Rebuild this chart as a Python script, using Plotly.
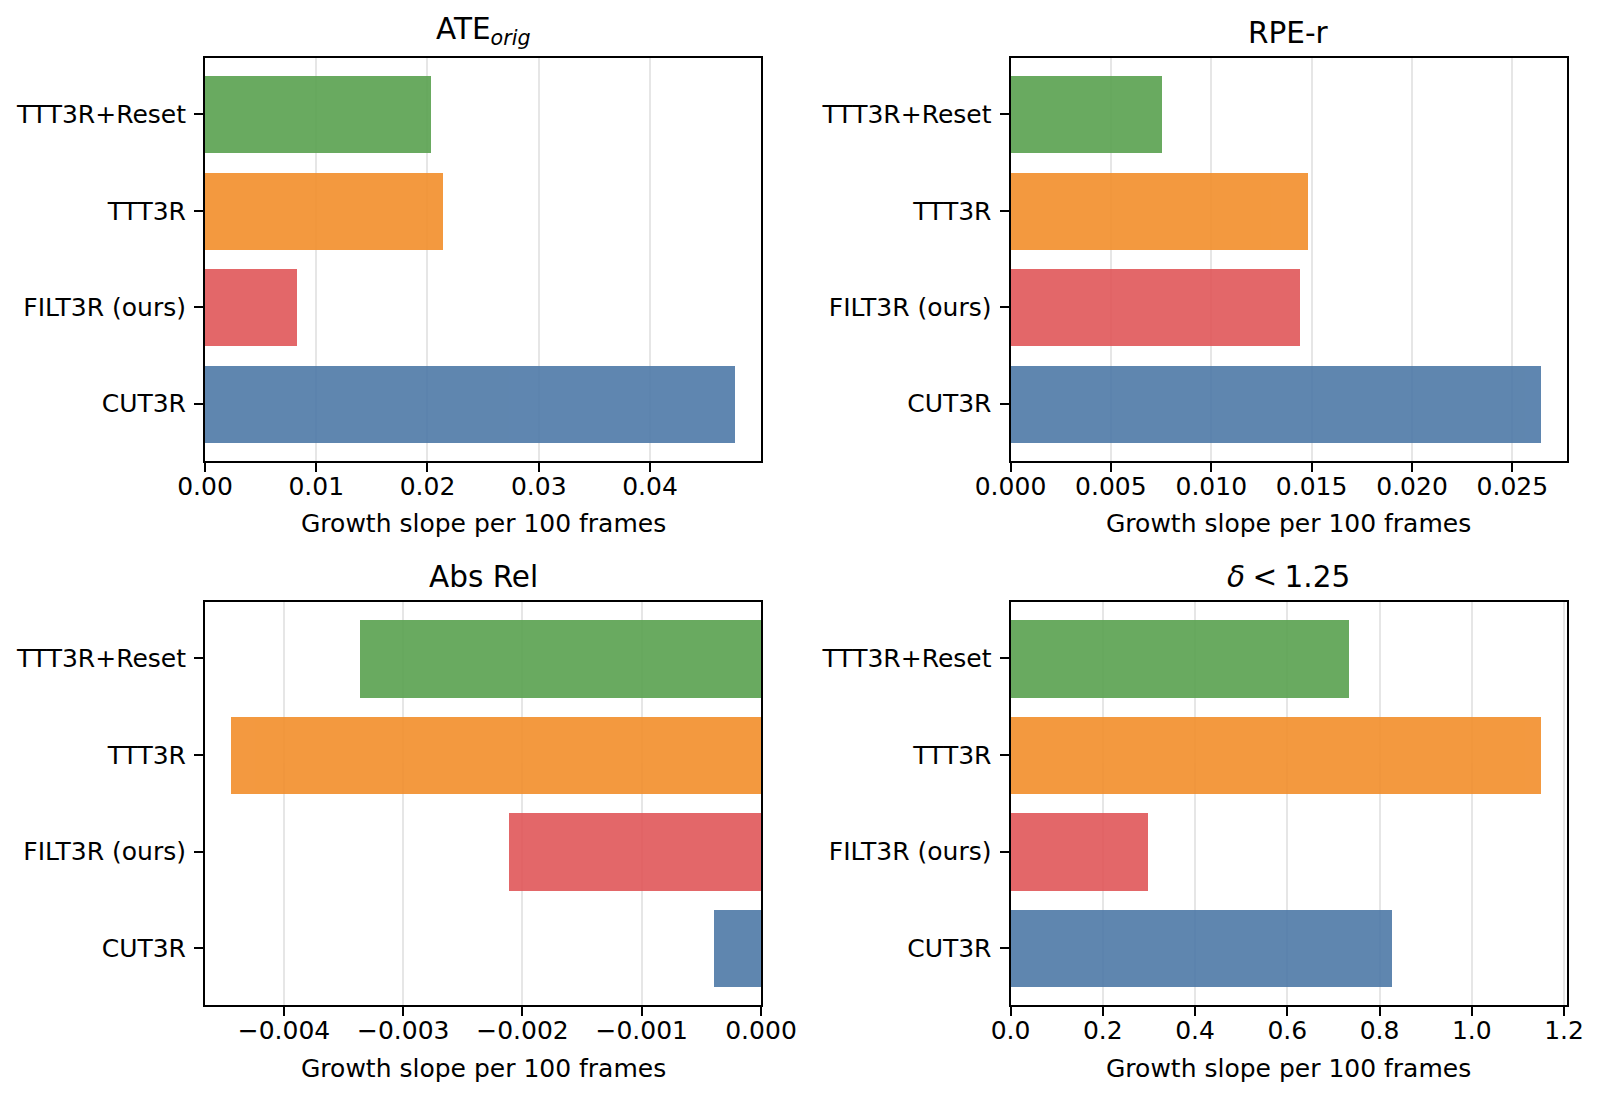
import plotly.graph_objects as go

# ---- data ----
categories = ["CUT3R", "FILT3R (ours)", "TTT3R", "TTT3R+Reset"]
ate_orig = [0.0476, 0.0083, 0.0214, 0.0203]
rpe_r = [0.0264, 0.0144, 0.0148, 0.0075]
abs_rel = [-0.00039, -0.00211, -0.00444, -0.00336]
delta_125 = [0.825, 0.298, 1.149, 0.732]

titles = ["ATE<sub><i>orig</i></sub>", "RPE-r", "Abs Rel", "<i>δ</i>\u2005<\u20051.25"]
xlabel = "Growth slope per 100 frames"
bar_colors = ["#4e79a7", "#e15759", "#f28e2b", "#59a14f"]

series = [ate_orig, rpe_r, abs_rel, delta_125]
dticks = [0.01, 0.005, 0.001, 0.2]
tformats = [".2f", ".3f", ".3f", ".1f"]

W, H = 1602, 1098
xdoms_px = [(205, 761), (1010.5, 1567), (205, 761), (1010.5, 1567)]
ydoms_px = [(57.5, 460.5), (57.5, 460.5), (601.5, 1005), (601.5, 1005)]

FONT = "DejaVu Sans"
fig = go.Figure()
annotations = []
for i, vals in enumerate(series):
    n = i + 1
    xa = "x" if n == 1 else f"x{n}"
    ya = "y" if n == 1 else f"y{n}"
    fig.add_trace(go.Bar(
        y=list(range(len(categories))), x=vals, orientation="h", width=0.8,
        marker=dict(color=bar_colors, line=dict(width=0)), opacity=0.9,
        xaxis=xa, yaxis=ya, showlegend=False, hoverinfo="x+y"))
    vmin, vmax = min(vals), max(vals)
    lo = min(0, vmin * 1.05)
    hi = max(0, vmax * 1.05)
    x0, x1 = xdoms_px[i]
    y0, y1 = ydoms_px[i]
    xkey = "xaxis" if n == 1 else f"xaxis{n}"
    ykey = "yaxis" if n == 1 else f"yaxis{n}"
    fig.update_layout(**{
        xkey: dict(domain=[x0 / W, x1 / W], anchor=ya, range=[lo, hi],
                   dtick=dticks[i], tick0=0, tickformat=tformats[i],
                   automargin=False, ticklabelstandoff=-7,
                   showgrid=True, gridcolor="#e6e6e6", gridwidth=1.5,
                   zeroline=False, showline=True, linecolor="black", linewidth=2,
                   mirror=True, ticks="outside", ticklen=9, tickwidth=2,
                   tickcolor="black",
                   tickfont=dict(family=FONT, size=25, color="black")),
        ykey: dict(domain=[1 - y1 / H, 1 - y0 / H], anchor=xa,
                   range=[-0.59, 3.59], tickmode="array",
                   tickvals=list(range(len(categories))), ticktext=categories,
                   automargin=False, ticklabelstandoff=3,
                   showgrid=False, zeroline=False, showline=True,
                   linecolor="black", linewidth=2, mirror=True,
                   ticks="outside", ticklen=9, tickwidth=2, tickcolor="black",
                   tickfont=dict(family=FONT, size=25, color="black")),
    })
    cx = (x0 + x1) / 2 / W
    annotations.append(dict(text=titles[i], x=cx, y=1 - y0 / H, xref="paper",
                            yref="paper", xanchor="center", yanchor="bottom",
                            yshift=6, showarrow=False,
                            font=dict(family=FONT, size=29.5, color="black")))
    annotations.append(dict(text=xlabel, x=cx, y=1 - (y1 + 63) / H, xref="paper",
                            yref="paper", xanchor="center", yanchor="middle",
                            showarrow=False,
                            font=dict(family=FONT, size=25, color="black")))

fig.update_layout(width=W, height=H, margin=dict(l=0, r=0, t=0, b=0, autoexpand=False),
                  paper_bgcolor="white", plot_bgcolor="white",
                  annotations=annotations, bargap=0,
                  font=dict(family=FONT, size=25, color="black"))
fig.write_html("out.html")
